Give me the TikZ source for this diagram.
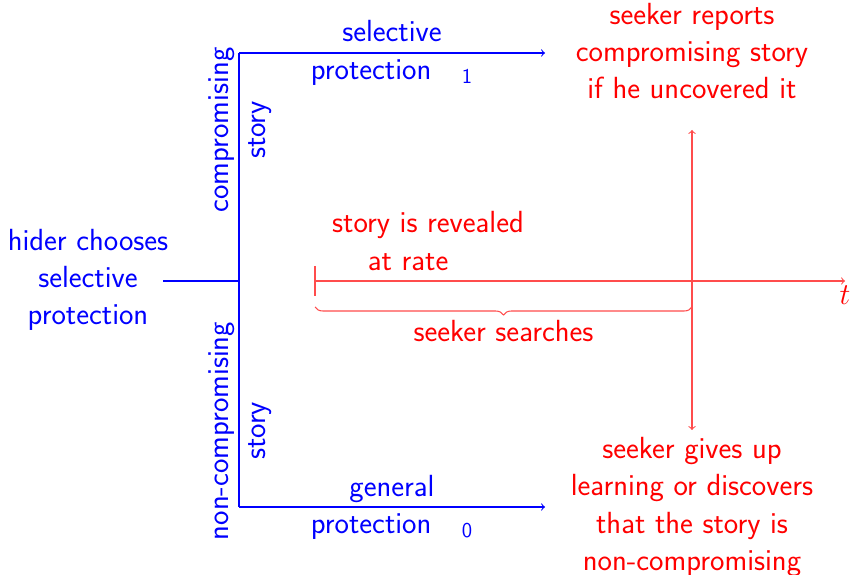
\documentclass[tikz,border=0pt]{standalone}
\usepackage{amsmath}
\usetikzlibrary{arrows.meta,positioning,calc,decorations.pathreplacing}
\definecolor{chide}{RGB}{0,0,255}
\definecolor{cseek}{RGB}{255,0,0}
\colorlet{cseekline}{cseek!70}

\begin{document}
\begin{tikzpicture}[>=to,font={\sffamily\fontsize{17.4}{21.2}\selectfont},
  hidtext/.style={text=chide,align=center},
  seektext/.style={text=cseek,align=center},
  hidline/.style={draw=chide,line width=0.6pt},
  seekline/.style={draw=cseekline,line width=0.6pt}]
\useasboundingbox (0,0) rectangle (17.02,11.48);
% ===================== LEFT: hider's choice =====================
\coordinate (stub) at (3.26,5.86);
\coordinate (root) at (4.78,5.86);
\coordinate (top) at (4.78,10.42);
\coordinate (bot) at (4.78,1.34);
\coordinate (topend) at (10.9,10.42);
\coordinate (botend) at (10.9,1.34);
\node[hidtext] (hider) at (1.76,5.88) {hider chooses\\selective\\protection};
\draw[hidline] (stub) -- (root);
\draw[hidline] (top) -- (bot);
\draw[hidline,->] (top) -- (topend)
  node[midway,hidtext] (sel) {selective\\protection\rule{1em}{0pt}$_{\mathsf{1}}$};
\draw[hidline,->] (bot) -- (botend)
  node[midway,hidtext] (gen) {general\\protection\rule{1em}{0pt}$_{\mathsf{0}}$};
\node[hidtext,rotate=90] (comp) at (4.80,8.88) {compromising\\story};
\node[hidtext,rotate=90] (noncomp) at (4.80,2.86) {non-compromising\\story};
% ===================== RIGHT: seeker's timeline =====================
\coordinate (t0) at (6.30,5.86);
\coordinate (t1) at (16.9,5.86);
\draw[seekline,->] (t0) -- (t1) node[below,text=cseek,inner sep=2.5pt] (tlab) {$t$};
\draw[seekline] ($(t0)+(0,0.3)$) -- ($(t0)-(0,0.3)$);
\node[seektext] (reveal) at (8.56,6.66) {story is revealed\\at rate\rule{1.3em}{0pt}};
% brace over the search period
\coordinate (b0) at (6.30,5.34);
\coordinate (b1) at (13.84,5.34);
\draw[seekline,decorate,decoration={brace,mirror,amplitude=0.16cm}] (b0) -- (b1)
  node[midway,below=4pt,text=cseek] (search) {seeker searches};
% outcomes
\coordinate (up) at (13.84,8.88);
\coordinate (down) at (13.84,2.88);
\draw[seekline,<->] (down) -- (up);
\node[seektext] (report) at (13.84,10.46) {seeker reports\\compromising story\\if he uncovered it};
\node[seektext] (giveup) at (13.84,1.34) {seeker gives up\\learning or discovers\\that the story is\\non-compromising};
\end{tikzpicture}
\end{document}
